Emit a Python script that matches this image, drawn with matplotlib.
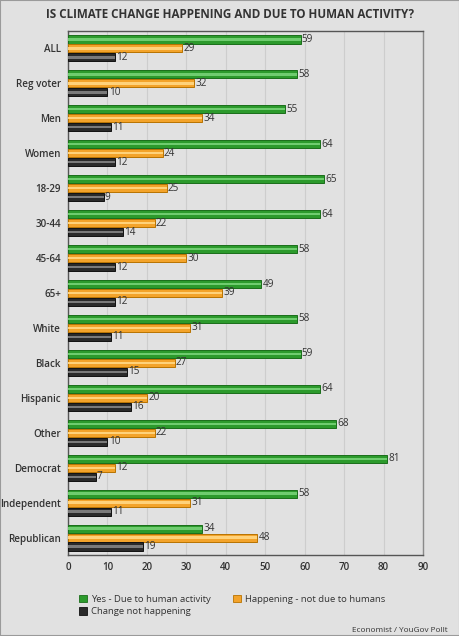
import numpy as np
import matplotlib.pyplot as plt
from matplotlib.patches import Rectangle

groups = ['ALL', 'Reg voter', 'Men', 'Women', '18-29', '30-44', '45-64', '65+',
          'White', 'Black', 'Hispanic', 'Other', 'Democrat', 'Independent', 'Republican']
yes_human = [59, 58, 55, 64, 65, 64, 58, 49, 58, 59, 64, 68, 81, 58, 34]
not_human = [29, 32, 34, 24, 25, 22, 30, 39, 31, 27, 20, 22, 12, 31, 48]
not_happening = [12, 10, 11, 12, 9, 14, 12, 12, 11, 15, 16, 10, 7, 11, 19]
series_names = ['Yes - Due to human activity', 'Happening - not due to humans', 'Change not happening']

# (edge, fill, highlight)
colors = [('#1a6e1a', '#2c9a2c', '#6fcc6f'),
          ('#b87300', '#f3a32a', '#ffd27a'),
          ('#111111', '#2a2a2a', '#7a7a7a')]

bg = '#e1e1e1'
txt = '#333333'
plt.rcParams['font.family'] = ['Open Sans', 'DejaVu Sans']

fig = plt.figure(figsize=(4.6, 6.36), dpi=100, facecolor=bg)
ax = fig.add_axes([68/460, 1 - 555/636, (423 - 68)/460, (555 - 31)/636])
ax.set_facecolor(bg)

y = np.arange(len(groups))
h = 0.23
offsets = [-0.257, 0.0, 0.257]
for vals, off, (ec, fc, hc) in zip([yes_human, not_human, not_happening], offsets, colors):
    ax.barh(y + off, vals, height=h, color=fc, edgecolor=ec, linewidth=0.7, zorder=3)
    ax.barh(y + off, vals, height=h * 0.28, color=hc, linewidth=0, zorder=4)
    for yi, v in zip(y + off, vals):
        ax.text(v + 0.3, yi, str(v), va='center', ha='left', fontsize=7.2, color=txt, zorder=5)

ax.set_ylim(len(groups) - 0.5, -0.5)
ax.set_xlim(0, 90)
ax.set_xticks(range(0, 91, 10))
ax.set_yticks(y)
ax.set_yticklabels(groups, fontsize=7.1, color=txt, fontweight='semibold')
ax.tick_params(axis='x', labelsize=7.1, colors=txt, length=0, pad=5)
ax.tick_params(axis='y', length=0, pad=5)
for lab in ax.get_xticklabels():
    lab.set_fontweight('semibold')
ax.grid(axis='x', color='#cdcdcd', linewidth=0.8, zorder=0)
for s in ax.spines.values():
    s.set_color('#555555')
    s.set_linewidth(1.0)
ax.spines['right'].set_color('#8a8a8a')

fig.text(0.5, 1 - 14/636, 'IS CLIMATE CHANGE HAPPENING AND DUE TO HUMAN ACTIVITY?',
         ha='center', va='center', fontsize=8.4, fontweight='bold', color=txt)

handles = [Rectangle((0, 0), 1, 1, facecolor=c[1], edgecolor=c[0], linewidth=0.6) for c in colors]
order = [0, 2, 1]
fig.legend([handles[i] for i in order], [series_names[i] for i in order],
           loc='upper left', bbox_to_anchor=(70/460, 1 - 586/636), ncol=2, frameon=False,
           fontsize=6.8, handlelength=0.9, handleheight=0.9, handletextpad=0.45,
           columnspacing=2.3, labelspacing=0.35, labelcolor=txt)

fig.text(1 - 12/460, 1 - 630/636, 'Economist / YouGov Pollt', ha='right', va='center',
         fontsize=5.9, color=txt)

fig.add_artist(Rectangle((0, 0), 1, 1, transform=fig.transFigure, fill=False,
                         edgecolor='#9a9a9a', linewidth=1.5))

fig.savefig('out.png', dpi=100, facecolor=bg)
